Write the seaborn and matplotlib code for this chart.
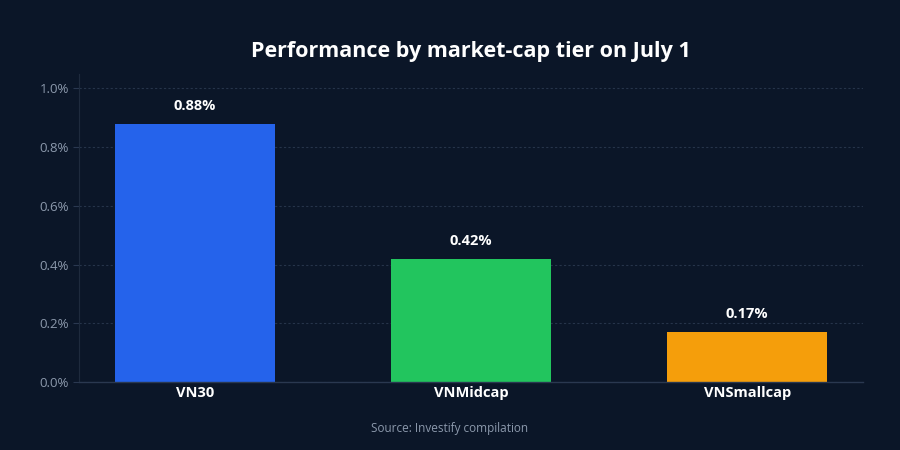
import matplotlib
matplotlib.use('Agg')
import matplotlib.pyplot as plt
import seaborn as sns
import pandas as pd
from matplotlib.ticker import FuncFormatter

tiers = ['VN30', 'VNMidcap', 'VNSmallcap']
changes = [0.88, 0.42, 0.17]
colors = ['#2563EB', '#22C55E', '#F59E0B']
y_ticks = [0.0, 0.2, 0.4, 0.6, 0.8, 1.0]

BG = '#0B1628'
GRID = '#26344A'
MUTED = '#8C99AC'

sns.set_theme(style='dark')
plt.rcParams['font.family'] = ['Open Sans', 'DejaVu Sans']

df = pd.DataFrame({'tier': tiers, 'change': changes})

fig = plt.figure(figsize=(9, 4.5), dpi=100, facecolor=BG)
ax = fig.add_axes([0.088, 0.151, 0.871, 0.685])
ax.set_facecolor(BG)

sns.barplot(data=df, x='tier', y='change', hue='tier', palette=colors,
            width=0.58, saturation=1, legend=False, linewidth=0, ax=ax)

for i, v in enumerate(changes):
    ax.annotate(f'{v:.2f}%', (i, v), xytext=(0, 8), textcoords='offset points',
                ha='center', va='bottom', color='white', fontsize=10.5,
                fontweight='bold')

ax.set_ylim(0, 1.05)
ax.set_xlim(-0.42, 2.42)
ax.set_yticks(y_ticks)
ax.yaxis.set_major_formatter(FuncFormatter(lambda v, _: f'{v:.1f}%'))
ax.grid(axis='y', color=GRID, linestyle=(0, (2, 2)), linewidth=0.8)
ax.grid(axis='x', visible=False)
ax.set_axisbelow(True)

for side in ['top', 'right']:
    ax.spines[side].set_visible(False)
ax.spines['left'].set_color('#1E2A3D')
ax.spines['bottom'].set_color('#2A3850')
ax.spines['left'].set_linewidth(0.8)
ax.spines['bottom'].set_linewidth(1.0)

ax.tick_params(axis='y', colors=MUTED, labelsize=9.5, length=4, width=0.8,
               left=True, color='#2A3850')
ax.tick_params(axis='x', colors='white', labelsize=10.5, length=0, pad=2.5)
for lbl in ax.get_xticklabels():
    lbl.set_fontweight('bold')

ax.set_xlabel('')
ax.set_ylabel('')
ax.set_title('Performance by market-cap tier on July 1', color='white',
             fontsize=15.5, fontweight='bold', pad=12)

fig.text(0.5, 0.048, 'Source: Investify compilation', ha='center', va='center',
         color=MUTED, fontsize=8.5)

fig.savefig('out.png', dpi=100, facecolor=BG)
